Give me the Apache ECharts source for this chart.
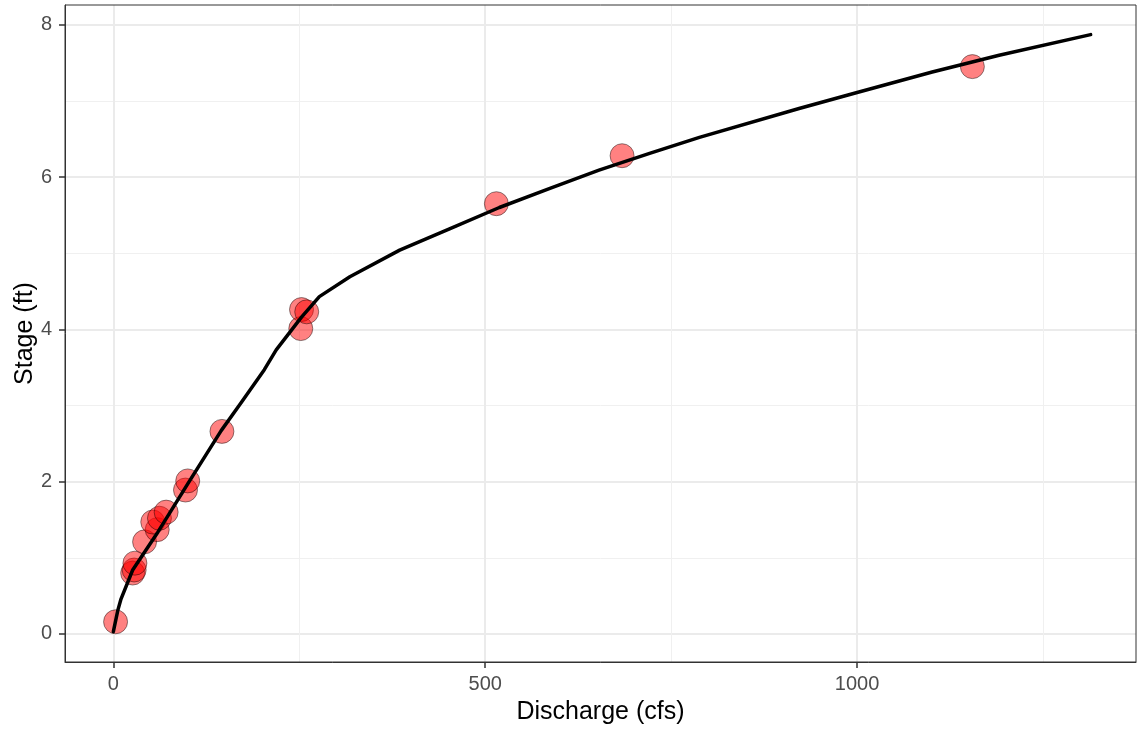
<!DOCTYPE html>
<html>
<head>
<meta charset="utf-8">
<script src="https://cdn.jsdelivr.net/npm/echarts@6/dist/echarts.min.js"></script>
<style>
html,body{margin:0;padding:0;background:#fff;}
#chart{width:1137px;height:729px;}
</style>
</head>
<body>
<div id="chart"></div>
<script>
var obsDischarge = [3, 26, 28, 29, 42, 59, 53, 62, 71, 97, 100, 146, 252, 253, 260, 515, 684, 1155];
var obsStage     = [0.16, 0.80, 0.84, 0.93, 1.21, 1.37, 1.47, 1.52, 1.60, 1.89, 2.01, 2.66, 4.01, 4.26, 4.23, 5.65, 6.28, 7.45];

// Rating curve
var curveDischarge = [0, 6, 10, 26, 60, 100, 145, 172, 203, 219, 253, 277, 318, 385, 452, 519, 587, 653, 721, 788, 922, 1000, 1101, 1191, 1314];
var curveStage     = [0.03, 0.31, 0.45, 0.84, 1.34, 1.97, 2.67, 3.04, 3.47, 3.73, 4.16, 4.43, 4.69, 5.04, 5.32, 5.60, 5.85, 6.09, 6.31, 6.52, 6.90, 7.11, 7.38, 7.60, 7.87];

// Axis ticks
var xMajorTicks = [0, 500, 1000];
var xMinorTicks = [250, 750, 1250];
var yMajorTicks = [0, 2, 4, 6, 8];
var yMinorTicks = [1, 3, 5, 7];

var X_MIN = -65, X_MAX = 1375, Y_MIN = -0.368, Y_MAX = 8.259;
var FONT = '"Liberation Sans", Arial, sans-serif';

var obsData = obsDischarge.map(function (q, i) { return [q, obsStage[i]]; });
var curveData = curveDischarge.map(function (q, i) { return [q, curveStage[i]]; });

function plain(v) { return String(v); }

var chart = echarts.init(document.getElementById('chart'), null, { renderer: 'canvas' });
chart.setOption({
  animation: false,
  backgroundColor: '#ffffff',
  grid: {
    left: 65, top: 5, right: 1, bottom: 67,
    containLabel: false, outerBoundsMode: 'none',
    show: true, borderColor: '#333333', borderWidth: 1, backgroundColor: 'transparent', z: 10
  },
  xAxis: [
    {
      type: 'value', min: X_MIN, max: X_MAX, position: 'bottom',
      name: 'Discharge (cfs)', nameLocation: 'middle', nameGap: 38, nameMoveOverlap: false,
      nameTextStyle: { fontFamily: FONT, fontSize: 25, color: '#000000' },
      axisLine: { show: true, onZero: false, lineStyle: { color: '#333333', width: 1 } },
      axisTick: { show: true, inside: false, customValues: xMajorTicks, length: 6, lineStyle: { color: '#333333', width: 1.5 } },
      axisLabel: { show: true, customValues: xMajorTicks, formatter: plain, fontFamily: FONT, fontSize: 20, color: '#4D4D4D', margin: 12 },
      splitLine: { show: true, lineStyle: { color: '#EBEBEB', width: 2 } }
    },
    {
      type: 'value', min: X_MIN, max: X_MAX, position: 'bottom',
      axisLine: { show: false },
      axisTick: { show: false, customValues: xMinorTicks },
      axisLabel: { show: false, customValues: xMinorTicks },
      splitLine: { show: true, lineStyle: { color: '#F0F0F0', width: 1 } }
    }
  ],
  yAxis: [
    {
      type: 'value', min: Y_MIN, max: Y_MAX, position: 'left',
      name: 'Stage (ft)', nameLocation: 'middle', nameGap: 27, nameRotate: 90, nameMoveOverlap: false,
      nameTextStyle: { fontFamily: FONT, fontSize: 25, color: '#000000' },
      axisLine: { show: true, onZero: false, lineStyle: { color: '#333333', width: 1 } },
      axisTick: { show: true, inside: false, customValues: yMajorTicks, length: 6, lineStyle: { color: '#333333', width: 1.5 } },
      axisLabel: { show: true, customValues: yMajorTicks, formatter: plain, fontFamily: FONT, fontSize: 20, color: '#4D4D4D', margin: 13 },
      splitLine: { show: true, lineStyle: { color: '#EBEBEB', width: 2 } }
    },
    {
      type: 'value', min: Y_MIN, max: Y_MAX, position: 'left',
      axisLine: { show: false },
      axisTick: { show: false, customValues: yMinorTicks },
      axisLabel: { show: false, customValues: yMinorTicks },
      splitLine: { show: true, lineStyle: { color: '#F0F0F0', width: 1 } }
    }
  ],
  series: [
    {
      type: 'scatter', xAxisIndex: 0, yAxisIndex: 0,
      data: obsData, symbol: 'circle', symbolSize: 24,
      itemStyle: { color: 'rgba(255,0,0,0.62)', borderColor: 'rgba(0,0,0,0.55)', borderWidth: 1 },
      z: 3
    },
    {
      type: 'line', xAxisIndex: 0, yAxisIndex: 0,
      data: curveData, showSymbol: false, symbol: 'none', smooth: false,
      lineStyle: { color: '#000000', width: 3.5, cap: 'round', join: 'round' },
      z: 4
    }
  ]
});
</script>
</body>
</html>
